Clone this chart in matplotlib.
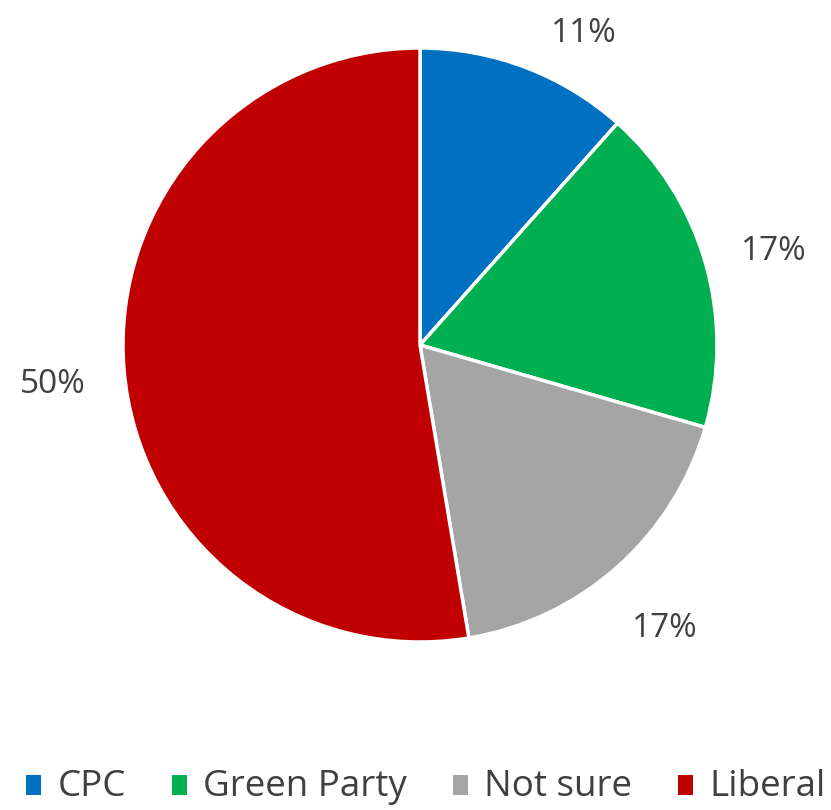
import matplotlib.pyplot as plt

labels = ['CPC', 'Green Party', 'Not sure', 'Liberal']
values = [11, 17, 17, 50]
colors = ['#0070C0', '#00B050', '#A5A5A5', '#C00000']

plt.rcParams['font.family'] = ['Open Sans', 'DejaVu Sans']

fig = plt.figure(figsize=(8.31, 8.10), dpi=100)
# pie area: centre ~ (420, 345) px, radius ~ 297 px
ax = fig.add_axes([(420 - 297) / 831, (810 - 345 - 297) / 810, 594 / 831, 594 / 810])

wedges, texts, autotexts = ax.pie(
    values, colors=colors, startangle=90, counterclock=False,
    autopct=lambda p: f'{round(p * sum(values) / 100):.0f}%',
    pctdistance=1.24, radius=1,
    wedgeprops=dict(edgecolor='white', linewidth=2.5),
    textprops=dict(fontsize=24, color='#404040'))
ax.set_xlim(-1, 1)
ax.set_ylim(-1, 1)
ax.set_aspect('equal')

# Excel nudges the labels a little; shift them to where the reference has them
for t in autotexts:
    x, y = t.get_position()
    t.set_position((x, y - 0.03))
autotexts[0].set_position((0.55, 1.05))

leg = fig.legend(wedges, labels, loc='center', bbox_to_anchor=(426 / 831, 1 - 787 / 810),
                 ncol=4, frameon=False, fontsize=26.5, handlelength=0.4, handleheight=0.4,
                 handletextpad=0.45, columnspacing=1.25, labelcolor='#404040',
                 borderaxespad=0, borderpad=0)
# square legend keys, no white wedge edge
for h in leg.legend_handles:
    h.set_linewidth(0)
    h.set_height(14)
    h.set_y(h.get_y() - 2)

fig.savefig('out.png', dpi=100)
